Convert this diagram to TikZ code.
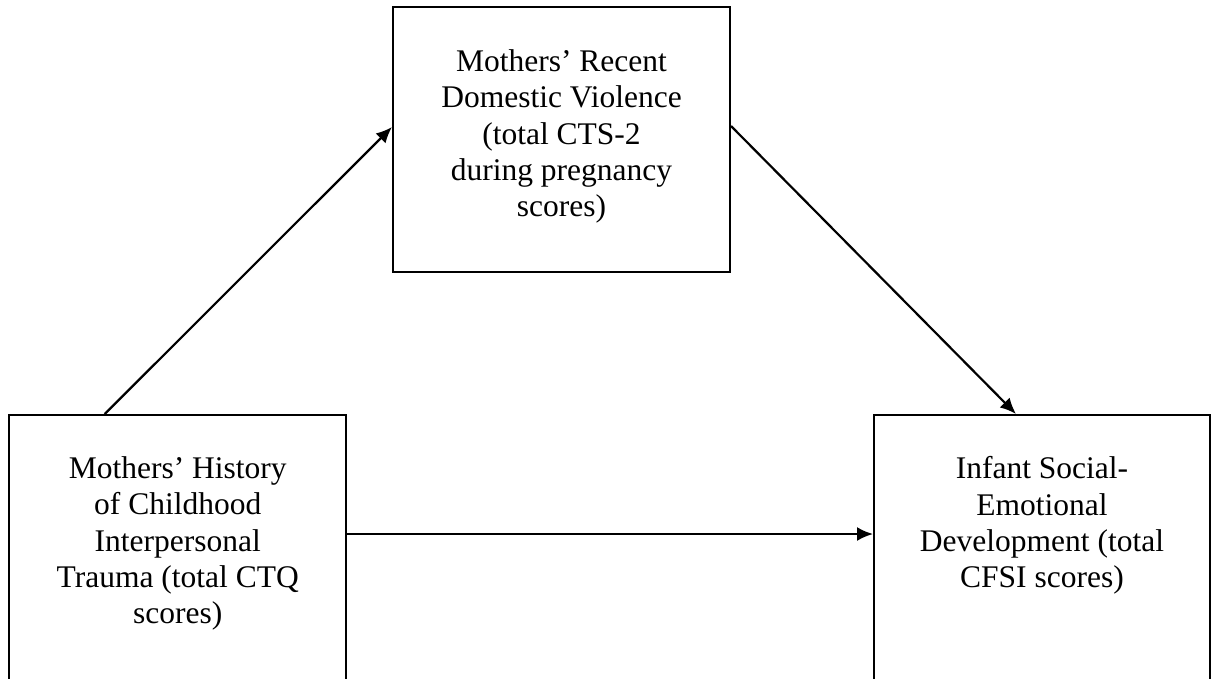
\documentclass[tikz,border=0pt]{standalone}
\usepackage{fontspec}
\setmainfont{Liberation Serif}
\usetikzlibrary{arrows.meta}
\begin{document}
\begin{tikzpicture}[x=1pt,y=-1pt,
  box/.style={draw=black, line width=2pt, inner sep=0pt, minimum width=337pt},
  txt/.style={align=center, inner sep=0pt, anchor=north, font=\fontsize{31.5}{36.25}\selectfont},
  arr/.style={line width=2.2pt, -{Latex[length=16pt,width=14pt]}}]
\useasboundingbox (0,0) rectangle (1214,678);
\clip (0,0) rectangle (1214,678);
\fill[white] (0,0) rectangle (1214,678);
\node[box, minimum height=265pt] (T) at (561.5,139.5) {};
\node[box, minimum height=305pt] (L) at (177.75,567.5) {};
\node[box, minimum width=336pt, minimum height=305pt] (R) at (1042,567.5) {};
\node[txt] (Tt) at (561.5,49.5) {Mothers’ Recent\\Domestic Violence\\(total CTS-2\\during pregnancy\\scores)};
\node[txt] (Lt) at (177.75,456.5) {Mothers’ History\\of Childhood\\Interpersonal\\Trauma (total CTQ\\scores)};
\node[txt] (Rt) at (1042,456.5) {Infant Social-\\Emotional\\Development (total\\CFSI scores)};
\draw[arr] ([xshift=96.5pt]L.north west) -- ([yshift=-121pt]T.north west);
\draw[arr] ([yshift=-120pt]T.north east) -- ([xshift=143pt]R.north west);
\draw[arr] ([yshift=-120pt]L.north east) -- ([yshift=-120pt]R.north west);
\end{tikzpicture}
\end{document}
